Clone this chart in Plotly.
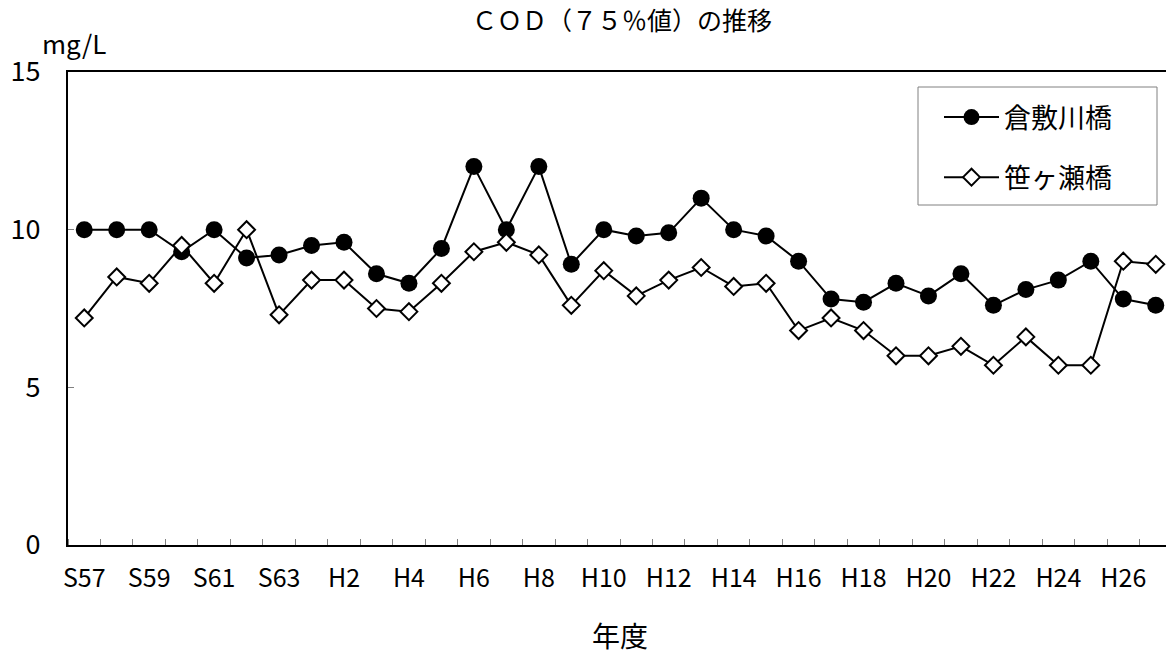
import plotly.graph_objects as go

years = ["S57", "S58", "S59", "S60", "S61", "S62", "S63",
         "H1", "H2", "H3", "H4", "H5", "H6", "H7", "H8", "H9", "H10",
         "H11", "H12", "H13", "H14", "H15", "H16", "H17", "H18", "H19", "H20",
         "H21", "H22", "H23", "H24", "H25", "H26", "H27"]
kurashiki = [10, 10, 10, 9.3, 10, 9.1, 9.2,
             9.5, 9.6, 8.6, 8.3, 9.4, 12, 10, 12, 8.9, 10,
             9.8, 9.9, 11, 10, 9.8, 9.0, 7.8, 7.7, 8.3, 7.9,
             8.6, 7.6, 8.1, 8.4, 9.0, 7.8, 7.6]
sasagase = [7.2, 8.5, 8.3, 9.5, 8.3, 10, 7.3,
            8.4, 8.4, 7.5, 7.4, 8.3, 9.3, 9.6, 9.2, 7.6, 8.7,
            7.9, 8.4, 8.8, 8.2, 8.3, 6.8, 7.2, 6.8, 6.0, 6.0,
            6.3, 5.7, 6.6, 5.7, 5.7, 9.0, 8.9]
y_ticks = [0, 5, 10, 15]

FONT = "Noto Sans CJK JP"
xi = list(range(len(years)))

# the page body adds an 8px offset; figure is sized to fill the rest
W, H = 1166, 647
L, T, R, B = 60, 64, 2, 110
PW = W - L - R
PH = H - T - B

fig = go.Figure()
fig.add_trace(go.Scatter(
    x=xi, y=kurashiki, name="倉敷川橋", mode="lines+markers",
    line=dict(color="black", width=2),
    marker=dict(symbol="circle", size=17, color="black"),
    legendgroup="a"))
fig.add_trace(go.Scatter(
    x=xi, y=sasagase, name="笹ヶ瀬橋", mode="lines+markers",
    line=dict(color="black", width=2),
    marker=dict(symbol="diamond", size=13, color="white",
                line=dict(color="black", width=2)),
    legendgroup="b"))

# legend frame (wider padding than plotly's own legend border)
fig.add_shape(type="rect", xref="paper", yref="paper",
              x0=(910 - L) / PW, x1=(1149 - L) / PW,
              y0=(537 - 197) / PH, y1=(537 - 79) / PH,
              line=dict(color="#808080", width=1), fillcolor="white", layer="below")

fig.update_layout(
    width=W, height=H,
    margin=dict(l=L, r=R, t=T, b=B, autoexpand=False),
    paper_bgcolor="white", plot_bgcolor="white",
    font=dict(family=FONT, color="black"),
    title=dict(text="ＣＯＤ（７５％値）の推移", x=614 / W, xanchor="center",
               y=1, yanchor="top", pad=dict(t=4), font=dict(size=25)),
    showlegend=True,
    legend=dict(x=(931 - L) / PW, xanchor="left", y=(537 - 85) / PH, yanchor="top",
                borderwidth=0, bgcolor="rgba(0,0,0,0)",
                font=dict(size=27), tracegroupgap=22, itemwidth=55),
    xaxis=dict(range=[-0.5, len(years) - 0.5], tickmode="array",
               tickvals=xi[::2], ticktext=years[::2], ticks="",
               tickfont=dict(size=25), showgrid=False, automargin=False,
               ticklabelstandoff=10,
               showline=True, linecolor="black", linewidth=2, mirror=True,
               zeroline=False,
               minor=dict(ticks="inside", tickmode="linear", tick0=0.5, dtick=1,
                          ticklen=6, tickcolor="#808080", tickwidth=1,
                          showgrid=False),
               title=dict(text="年度", font=dict(size=28), standoff=38)),
    yaxis=dict(range=[0, 15], tickmode="array", tickvals=y_ticks,
               ticks="inside", ticklen=6, tickcolor="#808080", automargin=False,
               ticklabelstandoff=20,
               tickfont=dict(size=27), showgrid=False, zeroline=False,
               showline=True, linecolor="black", linewidth=2, mirror=True),
)
fig.add_annotation(text="mg/L", xref="paper", yref="paper", x=(32 - L) / PW, y=1.0,
                   xanchor="left", yanchor="bottom", showarrow=False,
                   font=dict(size=26, family=FONT), yshift=9)

fig.write_html("out.html")
